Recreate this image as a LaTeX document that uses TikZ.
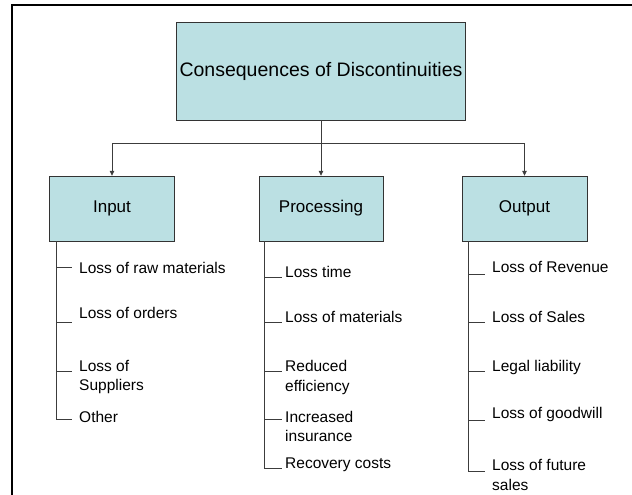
\documentclass[tikz,border=0pt]{standalone}
\usepackage{fontspec}
\setmainfont{Liberation Sans}
\usetikzlibrary{arrows.meta}
\definecolor{boxfill}{RGB}{187,224,227}
\definecolor{linegray}{RGB}{60,60,60}

\begin{document}
\begin{tikzpicture}[x=1pt,y=-1pt,
  box/.style={draw=black!80, fill=boxfill, inner sep=0pt, minimum width=125pt, minimum height=65pt, font=\fontsize{17}{20}\selectfont},
  item/.style={anchor=west, align=left, inner sep=0pt, font=\fontsize{15.5}{19.5}\selectfont},
  conn/.style={draw=linegray, line width=0.8pt},
  tip/.style={-{Triangle[length=5pt,width=4.5pt]}}]
\useasboundingbox (0,0) rectangle (632,495);

%frame of the slide
\draw[line width=2.5pt] (12,495) -- (12,5) -- (632,5);

\node (top) at (321,71) [box, minimum width=289pt, minimum height=98pt, font=\fontsize{19.5}{23}\selectfont] {Consequences of Discontinuities};
\node (in) at (112,208.5) [box] {Input};
\node (proc) at (321,208.5) [box, minimum width=124pt] {Processing};
\node (out) at (524.5,208.5) [box] {Output};
\coordinate (split) at (321,143);

\draw[conn] (top) -- (split);
\draw[conn,tip] (split) -| (in);
\draw[conn,tip] (split) -- (proc);
\draw[conn,tip] (split) -| (out);

%Input
\foreach \ty/\py/\txt [count=\i] in {267/268/Loss of raw materials, 322/313/Loss of orders, 371/377/{Loss of\\Suppliers}, 419/417/Other}{
  \node (in\i) at (79,\py) [item] {\txt};
  \coordinate (in\i t) at (72,\ty);
  \draw[conn] (56,\ty) -- (in\i t);
}
\draw[conn] (56,241) -- (56,419);

%Processing
\foreach \ty/\py/\txt [count=\i] in {277/272/Loss time, 322/317/Loss of materials, 371/377.5/{Reduced\\efficiency}, 419/426.5/{Increased\\insurance}, 468/465/Recovery costs}{
  \node (proc\i) at (285,\py) [item] {\txt};
  \coordinate (proc\i t) at (282,\ty);
  \draw[conn] (264,\ty) -- (proc\i t);
}
\draw[conn] (264,241) -- (264,468);

%Output
\foreach \ty/\py/\txt [count=\i] in {274/267/Loss of Revenue, 322/317/Loss of Sales, 371/367/Legal liability, 420/414/Loss of goodwill, 471/475/{Loss of future\\sales}}{
  \node (out\i) at (492,\py) [item] {\txt};
  \coordinate (out\i t) at (485,\ty);
  \draw[conn] (468,\ty) -- (out\i t);
}
\draw[conn] (468,241) -- (468,471);

\end{tikzpicture}
\end{document}
